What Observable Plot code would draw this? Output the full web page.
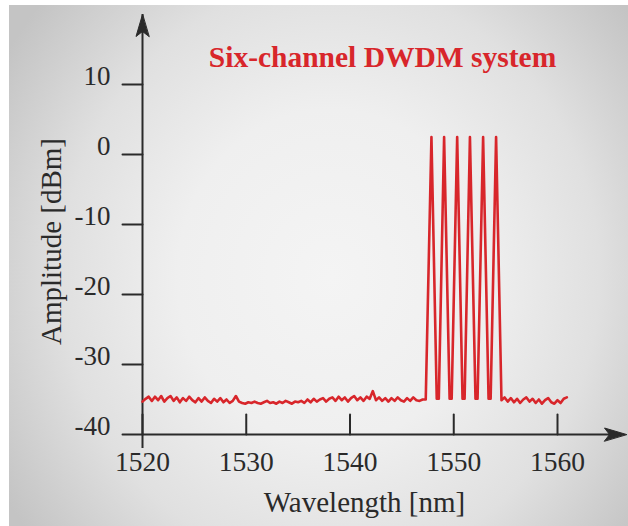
<!DOCTYPE html>
<html><head><meta charset="utf-8">
<script src="https://cdn.jsdelivr.net/npm/d3@7"></script>
<script src="https://cdn.jsdelivr.net/npm/@observablehq/plot@0.6"></script>
<style>
html,body{margin:0;padding:0;background:#fff;}
#wrap{position:relative;width:628px;height:526px;overflow:hidden;background:#fff;}
#bg{position:absolute;left:9px;top:5px;right:0;bottom:0;
  background:radial-gradient(ellipse 62% 80% at 52% 52%, #f4f4f4 0%, #efefef 40%, #e0e0e0 70%, #c4c4c4 100%);}
#chart{position:absolute;left:0;top:0;}
#chart svg text{font-family:"Liberation Serif","Times New Roman",serif;}
</style></head><body><div id="wrap"><div id="bg"></div><div id="chart"></div></div>
<script>
// ---- data ----
const titleText = "Six-channel DWDM system";
const xLabel = "Wavelength [nm]";
const yLabel = "Amplitude [dBm]";
const wavelengthTicks = [1520, 1530, 1540, 1550, 1560];
const amplitudeTicks = [-40, -30, -20, -10, 0, 10];

// noise floor left of the channels, sampled every 0.3 nm from 1520.0 nm
const noiseLeftStart = 1520.0;
const noiseRightStart = 1554.6;
const noiseStep = 0.3;
const noiseLeft = [
  -35.3,-34.9,-34.6,-35.2,-34.6,-35.1,-34.5,-35.3,-34.8,-34.5,-35.2,-34.7,-35.4,-34.8,-35.2,-34.6,
  -35.1,-35.4,-34.8,-35.3,-34.7,-35.2,-35.5,-34.9,-35.3,-34.8,-35.4,-35.0,-35.5,-35.2,-34.5,-35.3,
  -35.5,-35.6,-35.4,-35.5,-35.3,-35.5,-35.6,-35.4,-35.2,-35.5,-35.4,-35.6,-35.3,-35.5,-35.2,-35.4,-35.6,-35.3,-35.4,
  -35.2,-35.5,-35.0,-35.4,-34.9,-35.3,-35.0,-34.8,-35.3,-34.9,-34.7,
  -35.2,-34.6,-35.1,-34.7,-35.3,-34.8,-34.5,-35.1,-34.7,-35.2,-34.6,-34.9,-33.8,
  -35.1,-34.7,-35.2,-34.8,-35.3,-34.8,-35.2,-34.7,-35.1,-35.3,-34.8,-35.2,-34.7,-35.1,-35.2,-35.0
];
// noise floor right of the channels
const noiseRight = [
  -35.1,-34.7,-35.3,-34.8,-35.4,-34.9,-35.5,-35.0,-34.7,-35.3,-34.9,
  -35.5,-35.0,-35.6,-35.1,-34.8,-35.4,-35.6,-35.1,-35.5,-34.9,-34.7
];
// six DWDM channels
const channelCenters = [1547.85, 1549.07, 1550.33, 1551.56, 1552.83, 1554.08];
const channelPeaks = [2.5, 2.5, 2.5, 2.5, 2.5, 2.5];
const channelValleys = [-34.9, -34.9, -34.9, -34.9, -34.9]; // between neighbouring channels
const valleyHalfWidth = 0.1;
const channelEdgeLeft = [1547.3, -35.0];
const channelEdgeRight = [1554.6, -35.1];

// ---- build the trace ----
const trace = [];
noiseLeft.forEach((v, i) => trace.push({wl: noiseLeftStart + i * noiseStep, dbm: v}));
trace.push({wl: channelEdgeLeft[0], dbm: channelEdgeLeft[1]});
channelCenters.forEach((c, i) => {
  trace.push({wl: c, dbm: channelPeaks[i]});
  if (i < channelValleys.length) {
    const mid = (c + channelCenters[i + 1]) / 2;
    trace.push({wl: mid - valleyHalfWidth, dbm: channelValleys[i]});
    trace.push({wl: mid + valleyHalfWidth, dbm: channelValleys[i]});
  }
});
trace.push({wl: channelEdgeRight[0], dbm: channelEdgeRight[1]});
noiseRight.slice(1).forEach((v, i) => trace.push({wl: noiseRightStart + (i + 1) * noiseStep, dbm: v}));

const red = "#d8262b";
const ink = "#2a2a2a";
const serif = "Liberation Serif";
const xMin = wavelengthTicks[0], yMin = amplitudeTicks[0];
const xMax = 1566.65, yMax = 20;

const lineShape = {draw(ctx, l) { ctx.moveTo(0, 0); ctx.lineTo(0, -l); }};
const headShape = {draw(ctx, l) {
  ctx.moveTo(0, -l); ctx.lineTo(-6.5, 0); ctx.lineTo(0, -5); ctx.lineTo(6.5, 0); ctx.closePath();
}};
const txt = {fontFamily: serif, fill: ink, lineAnchor: "middle"};

const chart = Plot.plot({
  width: 628, height: 526,
  marginLeft: 142, marginRight: 2, marginTop: 14, marginBottom: 92,
  style: {background: "transparent", overflow: "visible"},
  x: {domain: [xMin, xMax], axis: null},
  y: {domain: [yMin, yMax], axis: null},
  marks: [
    // axis lines
    Plot.ruleX([xMin], {y1: yMin, y2: yMax, stroke: ink, strokeWidth: 2, insetTop: 14}),
    Plot.ruleY([yMin], {stroke: ink, strokeWidth: 2, insetRight: 14}),
    // arrow heads
    Plot.vector([yMax], {x: xMin, y: d => d, length: 22, anchor: "end", shape: headShape, fill: ink, stroke: ink, strokeWidth: 1}),
    Plot.vector([xMax], {x: d => d, y: yMin, length: 22, rotate: 90, anchor: "end", shape: headShape, fill: ink, stroke: ink, strokeWidth: 1}),
    // y ticks (to the left) and labels
    Plot.vector(amplitudeTicks, {x: xMin, y: d => d, length: 20, rotate: -90, anchor: "start", shape: lineShape, stroke: ink, strokeWidth: 2}),
    Plot.text(amplitudeTicks, {...txt, x: xMin, y: d => d, text: d => String(d), textAnchor: "end", dx: -32, dy: -8, fontSize: 27}),
    // x ticks (upwards) and labels
    Plot.vector(wavelengthTicks, {x: d => d, y: yMin, length: 20, anchor: "start", shape: lineShape, stroke: ink, strokeWidth: 2}),
    Plot.text(wavelengthTicks, {...txt, x: d => d, y: yMin, text: d => String(d), dy: 28, fontSize: 27.5}),
    // axis titles
    Plot.text([xLabel], {...txt, frameAnchor: "bottom", textAnchor: "middle", dx: -20, dy: 68, fontSize: 29}),
    Plot.text([yLabel], {...txt, frameAnchor: "left", textAnchor: "middle", rotate: -90, dx: -91, dy: 17, fontSize: 29}),
    // title
    Plot.text([titleText], {...txt, frameAnchor: "top", textAnchor: "middle", dx: -2, dy: 43, fontSize: 29.5, fontWeight: "bold", fill: red}),
    // spectrum
    Plot.line(trace, {x: "wl", y: "dbm", stroke: red, strokeWidth: 2.6, strokeLinejoin: "round", strokeLinecap: "round"})
  ]
});
document.getElementById("chart").appendChild(chart);
</script></body></html>
